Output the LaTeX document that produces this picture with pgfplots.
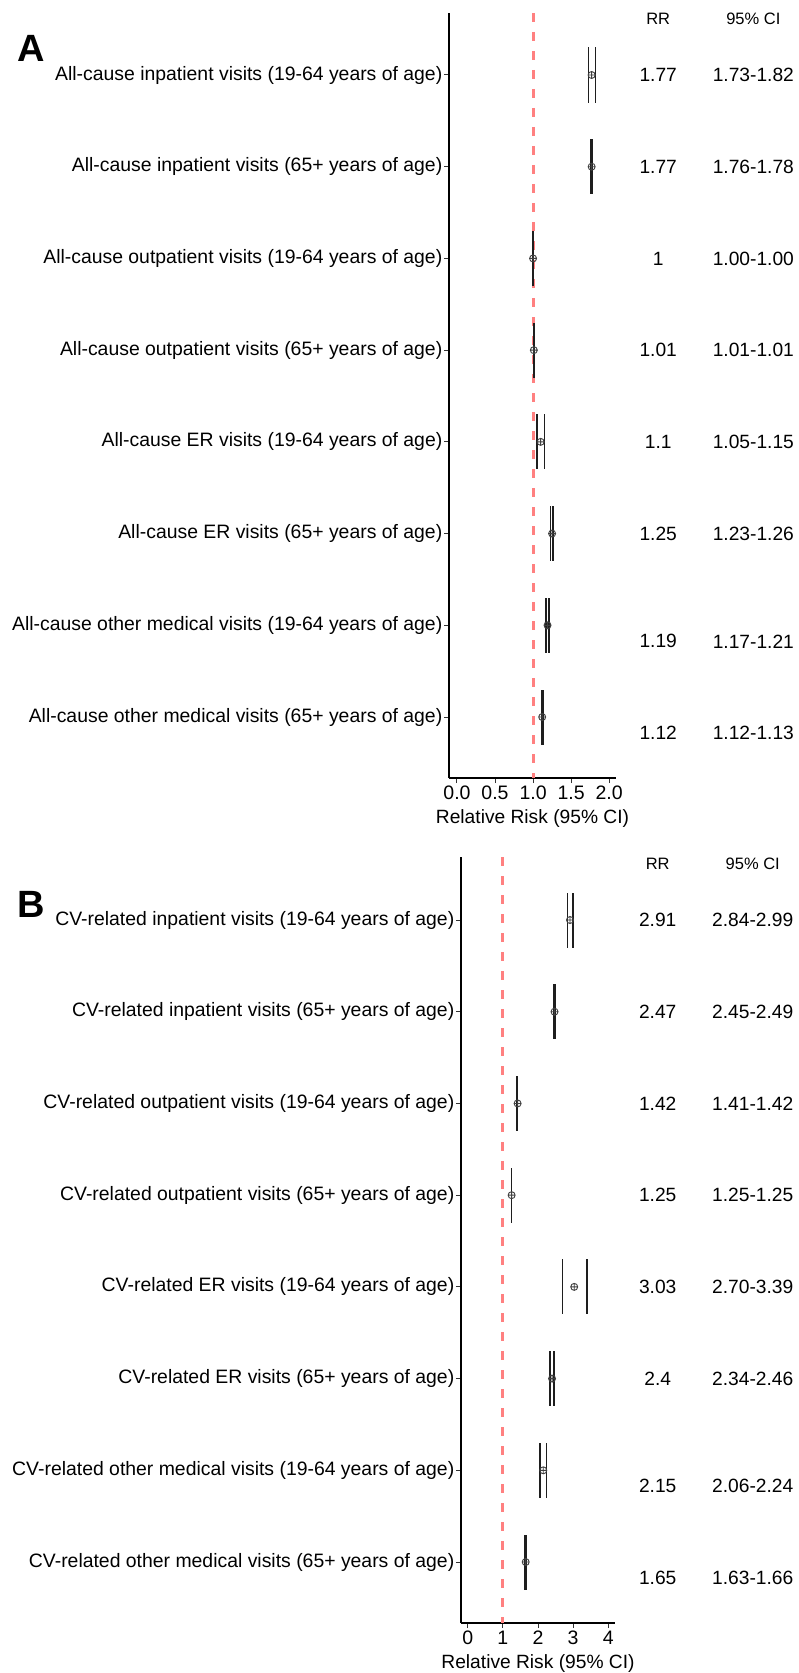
\documentclass[border=0pt]{standalone}
\usepackage{fontspec}
\setmainfont{Liberation Sans}
\usepackage{pgfplots}
\pgfplotsset{compat=1.18}
\usepackage{pgfplotstable}
\usetikzlibrary{plotmarks}
\definecolor{refred}{RGB}{255,128,128}
\definecolor{cigray}{RGB}{30,30,30}

% y: 8 = top row
\pgfplotstableread{
y rr lo hi
8 1.77 1.73 1.82
7 1.77 1.76 1.78
6 1.00 1.00 1.00
5 1.01 1.01 1.01
4 1.10 1.05 1.15
3 1.25 1.23 1.26
2 1.19 1.17 1.21
1 1.12 1.12 1.13
}\dataA

\pgfplotstableread{
y rr lo hi
8 2.91 2.84 2.99
7 2.47 2.45 2.49
6 1.42 1.41 1.42
5 1.25 1.25 1.25
4 3.03 2.70 3.39
3 2.40 2.34 2.46
2 2.15 2.06 2.24
1 1.65 1.63 1.66
}\dataB

\newcommand{\lblfont}{\fontsize{19.4}{22}\selectfont}
\newcommand{\valfont}{\fontsize{19.2}{21}\selectfont}
\newcommand{\hdrfont}{\fontsize{16.5}{18}\selectfont}

\pgfplotsset{forest/.style={
  scale only axis,
  axis lines=left,
  axis line style={-, line width=1.2pt, black},
  clip=false,
  tick align=outside,
  major tick length=5pt,
  tick style={line width=1pt, black!80},
  ytick={1,2,3,4,5,6,7,8},
  yticklabel style={font=\lblfont, inner sep=1.5pt},
  xticklabel style={font=\fontsize{19.5}{20}\selectfont, inner sep=0pt, yshift=-3pt},
  xlabel style={font=\fontsize{19.2}{22}\selectfont, inner sep=0pt, yshift=-9pt},
  /pgf/number format/assume math mode=true,
  cibar/.style={draw=none, mark=none, forget plot,
    error bars/.cd, y dir=both, y fixed=0.3, error mark=none,
    error bar style={draw=cigray, solid, line width=1.6pt}},
  rrmark/.style={only marks, mark=oplus, mark size=3.5pt,
    mark options={line width=0.9pt, draw=black!75}},
}}

\begin{document}
\begin{tikzpicture}
\path[use as bounding box] (0pt,0pt) rectangle (799pt,-1673pt);

\node[font=\bfseries\fontsize{38}{40}\selectfont] at (31pt,-48pt) {A};
\node[font=\bfseries\fontsize{38}{40}\selectfont] at (31pt,-904pt) {B};

% ---------------- Panel A ----------------
\begin{axis}[forest,
  at={(449pt,-778pt)}, anchor=south west,
  width=167pt, height=765pt,
  xmin=-0.105, xmax=2.09, ymin=0.335, ymax=8.676,
  xtick={0,0.5,1,1.5,2},
  xticklabel style={/pgf/number format/.cd, fixed, fixed zerofill, precision=1},
  xlabel={Relative Risk (95\% CI)},
  yticklabels={
    All-cause other medical visits (65+ years of age),
    All-cause other medical visits (19-64 years of age),
    All-cause ER visits (65+ years of age),
    All-cause ER visits (19-64 years of age),
    All-cause outpatient visits (65+ years of age),
    All-cause outpatient visits (19-64 years of age),
    All-cause inpatient visits (65+ years of age),
    All-cause inpatient visits (19-64 years of age)},
]
\addplot[refred, line width=3pt, dash pattern=on 9pt off 10pt, forget plot]
  coordinates {(1,8.676) (1,0.335)};
\addplot[cibar] table[x=lo, y=y] {\dataA};
\addplot[cibar] table[x=hi, y=y] {\dataA};
\addplot[rrmark] table[x=rr, y=y] {\dataA};

\node[font=\hdrfont] at (axis cs:2.645,8.61) {RR};
\node[font=\hdrfont] at (axis cs:3.895,8.61) {95\% CI};
\node[font=\valfont] at (axis cs:2.645,8) {1.77};
\node[font=\valfont] at (axis cs:3.895,8) {1.73-1.82};
\node[font=\valfont] at (axis cs:2.645,7) {1.77};
\node[font=\valfont] at (axis cs:3.895,7) {1.76-1.78};
\node[font=\valfont] at (axis cs:2.645,6) {1};
\node[font=\valfont] at (axis cs:3.895,6) {1.00-1.00};
\node[font=\valfont] at (axis cs:2.645,5) {1.01};
\node[font=\valfont] at (axis cs:3.895,5) {1.01-1.01};
\node[font=\valfont] at (axis cs:2.645,4) {1.1};
\node[font=\valfont] at (axis cs:3.895,4) {1.05-1.15};
\node[font=\valfont] at (axis cs:2.645,3) {1.25};
\node[font=\valfont] at (axis cs:3.895,3) {1.23-1.26};
\node[font=\valfont] at (axis cs:2.645,1.825) {1.19};
\node[font=\valfont] at (axis cs:3.895,1.825) {1.17-1.21};
\node[font=\valfont] at (axis cs:2.645,0.825) {1.12};
\node[font=\valfont] at (axis cs:3.895,0.825) {1.12-1.13};
\end{axis}

% ---------------- Panel B ----------------
\begin{axis}[forest,
  at={(461pt,-1623pt)}, anchor=south west,
  width=154pt, height=766pt,
  xmin=-0.19, xmax=4.19, ymin=0.335, ymax=8.687,
  xtick={0,1,2,3,4},
  xlabel={Relative Risk (95\% CI)},
  yticklabels={
    CV-related other medical visits (65+ years of age),
    CV-related other medical visits (19-64 years of age),
    CV-related ER visits (65+ years of age),
    CV-related ER visits (19-64 years of age),
    CV-related outpatient visits (65+ years of age),
    CV-related outpatient visits (19-64 years of age),
    CV-related inpatient visits (65+ years of age),
    CV-related inpatient visits (19-64 years of age)},
]
\addplot[refred, line width=3pt, dash pattern=on 9pt off 10pt, forget plot]
  coordinates {(1,8.687) (1,0.335)};
\addplot[cibar] table[x=lo, y=y] {\dataB};
\addplot[cibar] table[x=hi, y=y] {\dataB};
\addplot[rrmark] table[x=rr, y=y] {\dataB};

\node[font=\hdrfont] at (axis cs:5.405,8.61) {RR};
\node[font=\hdrfont] at (axis cs:8.108,8.61) {95\% CI};
\node[font=\valfont] at (axis cs:5.405,8) {2.91};
\node[font=\valfont] at (axis cs:8.108,8) {2.84-2.99};
\node[font=\valfont] at (axis cs:5.405,7) {2.47};
\node[font=\valfont] at (axis cs:8.108,7) {2.45-2.49};
\node[font=\valfont] at (axis cs:5.405,6) {1.42};
\node[font=\valfont] at (axis cs:8.108,6) {1.41-1.42};
\node[font=\valfont] at (axis cs:5.405,5) {1.25};
\node[font=\valfont] at (axis cs:8.108,5) {1.25-1.25};
\node[font=\valfont] at (axis cs:5.405,4) {3.03};
\node[font=\valfont] at (axis cs:8.108,4) {2.70-3.39};
\node[font=\valfont] at (axis cs:5.405,3) {2.4};
\node[font=\valfont] at (axis cs:8.108,3) {2.34-2.46};
\node[font=\valfont] at (axis cs:5.405,1.825) {2.15};
\node[font=\valfont] at (axis cs:8.108,1.825) {2.06-2.24};
\node[font=\valfont] at (axis cs:5.405,0.825) {1.65};
\node[font=\valfont] at (axis cs:8.108,0.825) {1.63-1.66};
\end{axis}
\end{tikzpicture}
\end{document}
